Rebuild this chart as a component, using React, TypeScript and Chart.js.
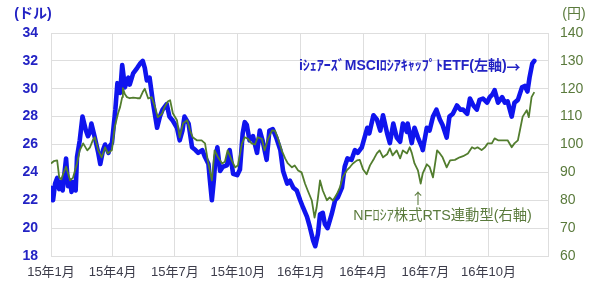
import React, { useEffect, useRef } from "react";
import { Chart, registerables } from "chart.js";

Chart.register(...registerables);

// x positions: days since 2015-01-01
const quarterDays = [0, 90, 181, 273, 365, 456, 547, 639];
const quarterLabels = ["15年1月", "15年4月", "15年7月", "15年10月", "16年1月", "16年4月", "16年7月", "16年10月"];

const leftTicks = [18, 20, 22, 24, 26, 28, 30, 32, 34];
const rightTicks = [60, 70, 80, 90, 100, 110, 120, 130, 140];

// iシェアーズ MSCI ロシア キャップド ETF (USD, left axis)
const etfDays = [0, 3, 6, 9, 12, 14, 17, 22, 25, 28, 30, 33, 36, 38, 42, 46, 51, 54, 57, 59, 64, 69, 72, 76, 79, 84, 86, 89, 94, 97, 101, 104, 108, 113, 115, 120, 126, 130, 134, 137, 140, 144, 149, 155, 159, 163, 169, 173, 178, 184, 188, 192, 195, 201, 206, 211, 215, 221, 225, 230, 232, 235, 238, 240, 243, 247, 251, 257, 261, 266, 272, 276, 280, 283, 286, 290, 295, 301, 305, 309, 315, 319, 324, 329, 335, 339, 345, 349, 354, 359, 364, 368, 374, 378, 383, 386, 390, 393, 397, 400, 404, 410, 415, 419, 425, 429, 433, 439, 444, 448, 454, 458, 462, 465, 471, 476, 481, 485, 491, 495, 500, 505, 510, 514, 520, 521, 527, 531, 536, 542, 543, 549, 553, 558, 563, 568, 572, 578, 582, 587, 593, 598, 602, 608, 612, 617, 622, 626, 631, 637, 641, 645, 648, 653, 659, 663, 667, 673, 677, 682, 688, 692, 696, 699, 703, 706];
const etfValues = [22.9, 22.0, 23.2, 23.6, 22.8, 23.3, 22.7, 25.0, 23.0, 23.4, 22.6, 23.3, 22.7, 25.1, 26.3, 28.0, 27.0, 26.6, 26.9, 27.5, 26.5, 25.4, 24.6, 25.6, 26.0, 25.4, 25.9, 26.1, 28.5, 30.4, 29.7, 31.7, 30.1, 30.8, 30.3, 31.1, 31.5, 31.8, 32.0, 31.5, 30.6, 30.8, 29.0, 27.2, 28.0, 28.5, 28.9, 28.0, 27.7, 27.2, 26.3, 27.0, 28.0, 27.5, 25.8, 25.6, 25.4, 25.6, 25.1, 24.6, 23.5, 22.0, 23.5, 24.9, 25.8, 24.1, 24.4, 24.5, 25.6, 23.9, 23.8, 24.2, 26.8, 27.6, 27.4, 26.3, 26.6, 25.4, 27.0, 26.3, 24.9, 27.0, 27.1, 26.5, 25.6, 24.1, 23.2, 23.4, 22.9, 22.7, 22.0, 21.5, 20.8, 20.1, 19.1, 18.7, 19.6, 21.0, 21.1, 20.3, 20.0, 21.0, 22.0, 22.2, 22.9, 24.4, 25.0, 24.9, 25.6, 25.4, 25.8, 26.5, 27.2, 26.8, 28.1, 27.8, 27.0, 28.1, 26.8, 26.1, 27.5, 26.5, 26.2, 27.5, 26.9, 27.5, 26.1, 27.2, 26.5, 25.8, 25.6, 27.2, 27.0, 28.0, 28.5, 27.8, 27.4, 26.5, 28.0, 28.2, 28.8, 28.5, 28.5, 28.2, 29.3, 28.8, 28.5, 29.2, 29.3, 29.0, 29.4, 29.6, 29.9, 29.0, 29.4, 29.0, 29.1, 28.0, 29.0, 29.2, 30.1, 30.2, 29.8, 30.8, 31.8, 32.0];

// NF ロシア株式 RTS 連動型 (JPY, right axis)
const rtsDays = [0, 4, 9, 12, 15, 18, 22, 28, 32, 38, 42, 47, 53, 57, 61, 64, 69, 74, 79, 83, 89, 93, 98, 101, 104, 105, 108, 111, 115, 120, 126, 130, 134, 137, 142, 147, 152, 156, 162, 166, 171, 174, 178, 184, 188, 193, 199, 203, 207, 213, 220, 225, 229, 235, 239, 244, 250, 254, 258, 264, 269, 273, 279, 283, 288, 293, 298, 302, 308, 312, 317, 323, 327, 331, 337, 342, 346, 352, 356, 361, 366, 371, 375, 381, 385, 388, 390, 393, 397, 403, 407, 412, 418, 422, 426, 432, 437, 441, 447, 451, 456, 461, 466, 472, 476, 480, 485, 491, 495, 499, 505, 510, 514, 520, 524, 527, 531, 536, 540, 543, 549, 553, 558, 564, 568, 572, 578, 583, 590, 597, 602, 609, 615, 619, 623, 629, 634, 638, 644, 648, 653, 658, 663, 667, 673, 677, 682, 685, 689, 695, 698, 702, 706];
const rtsValues = [93.2, 94.0, 94.3, 88.2, 87.5, 89.6, 92.0, 87.1, 88.0, 93.2, 97.9, 100.4, 97.9, 99.0, 101.5, 102.6, 97.9, 95.4, 99.0, 96.8, 98.0, 106.2, 111.2, 113.5, 117.0, 120.2, 118.0, 117.0, 116.6, 116.8, 116.6, 116.6, 118.8, 120.0, 116.5, 117.0, 113.4, 109.8, 111.0, 113.4, 115.5, 115.9, 111.2, 108.7, 102.6, 107.6, 108.7, 105.1, 102.6, 101.5, 101.5, 100.4, 94.3, 87.1, 97.9, 95.4, 93.2, 93.8, 97.9, 94.3, 91.8, 92.5, 100.4, 102.6, 102.0, 100.4, 100.0, 102.6, 102.0, 97.9, 102.0, 105.1, 105.0, 102.6, 97.9, 95.0, 93.2, 91.8, 92.5, 90.7, 90.0, 86.0, 83.5, 79.9, 73.8, 77.4, 81.0, 87.1, 83.5, 80.0, 81.0, 79.9, 82.4, 84.6, 88.2, 90.7, 92.0, 93.2, 94.3, 94.5, 91.0, 89.3, 92.5, 95.0, 96.8, 97.9, 95.4, 96.5, 98.6, 96.1, 97.9, 95.0, 97.9, 96.8, 99.0, 97.0, 93.2, 90.7, 86.0, 89.6, 92.9, 92.0, 88.2, 97.9, 96.8, 95.4, 91.8, 94.3, 94.5, 95.4, 95.8, 96.8, 99.0, 98.5, 99.0, 98.0, 99.0, 100.4, 100.4, 102.2, 101.5, 101.5, 101.5, 101.5, 99.0, 100.4, 101.5, 105.1, 110.0, 112.3, 109.8, 117.0, 118.8];

const etfLabel = "iｼｪｱｰｽﾞMSCIﾛｼｱｷｬｯﾌﾟﾄETF(左軸)";
const etfArrow = "→";
const rtsLabel = "NFﾛｼｱ株式RTS連動型(右軸)";

const FONT = "'Liberation Sans', 'Noto Sans CJK JP', sans-serif";
const CJK = "'Noto Sans CJK JP', sans-serif";
const BLUE_LINE = "#0f14ee";
const BLUE_TEXT = "#2323c4";
const GREEN_LINE = "#527d2e";
const GREEN_TEXT = "#5a7a3c";
const GRID = "#dedede";

const textPlugin = {
  id: "texts",
  afterDatasetsDraw(chart: any) {
    const ctx = chart.ctx;
    const y = chart.scales.y;
    const y1 = chart.scales.y1;
    const x = chart.scales.x;
    ctx.save();
    ctx.textBaseline = "middle";
    // axis unit titles
    ctx.font = `bold 14px ${FONT}`;
    ctx.fillStyle = BLUE_TEXT;
    ctx.textAlign = "center";
    ctx.fillText("(ドル)", 33, 14);
    ctx.font = `14px ${FONT}`;
    ctx.fillStyle = GREEN_TEXT;
    ctx.fillText("(円)", 574, 14);
    // blue series annotation
    const by = y.getPixelForValue(31.6);
    const right = x.getPixelForValue(686);
    ctx.font = `bold 14px ${CJK}`;
    const aw = ctx.measureText(etfArrow).width;
    ctx.fillStyle = BLUE_TEXT;
    ctx.textAlign = "right";
    ctx.fillText(etfArrow, right, by);
    ctx.font = `bold 14px ${FONT}`;
    ctx.fillText(etfLabel, right - aw, by);
    // green series annotation
    ctx.font = `15px ${CJK}`;
    ctx.fillStyle = GREEN_TEXT;
    ctx.textAlign = "center";
    ctx.fillText("↑", x.getPixelForValue(536), y1.getPixelForValue(80.8));
    ctx.font = `14.3px ${FONT}`;
    ctx.fillText(rtsLabel, x.getPixelForValue(572), y1.getPixelForValue(74.2));
    ctx.restore();
  },
};

export default function App() {
  const ref = useRef<HTMLCanvasElement | null>(null);

  useEffect(() => {
    if (!ref.current) return;
    const chart = new Chart(ref.current, {
      type: "line",
      data: {
        datasets: [
          {
            label: rtsLabel,
            data: rtsDays.map((d, i) => ({ x: d, y: rtsValues[i] })),
            yAxisID: "y1",
            borderColor: GREEN_LINE,
            borderWidth: 1.8,
            pointRadius: 0,
            tension: 0,
            order: 0,
            borderJoinStyle: "round",
          },
          {
            label: etfLabel,
            data: etfDays.map((d, i) => ({ x: d, y: etfValues[i] })),
            yAxisID: "y",
            borderColor: BLUE_LINE,
            borderWidth: 4.6,
            pointRadius: 0,
            tension: 0,
            order: 1,
            borderJoinStyle: "round",
            borderCapStyle: "round",
          },
        ],
      },
      options: {
        responsive: false,
        animation: false,
        events: [],
        layout: { padding: { top: 33, left: 0, right: 0, bottom: 0 } },
        plugins: { legend: { display: false }, tooltip: { enabled: false }, title: { display: false } },
        scales: {
          x: {
            type: "linear",
            min: 0,
            max: 726,
            afterBuildTicks: (s: any) => {
              s.ticks = quarterDays.map((v) => ({ value: v }));
            },
            afterFit: (s: any) => {
              s.height = 32;
            },
            ticks: {
              autoSkip: false,
              maxRotation: 0,
              padding: 9,
              color: "#3c3c4a",
              font: { family: FONT, size: 13 },
              callback: (v: any) => {
                const i = quarterDays.indexOf(Number(v));
                return i >= 0 ? quarterLabels[i] : "";
              },
            },
            grid: { color: GRID, drawTicks: false },
            border: { color: GRID },
          },
          y: {
            type: "linear",
            position: "left",
            min: leftTicks[0],
            max: leftTicks[leftTicks.length - 1],
            afterBuildTicks: (s: any) => {
              s.ticks = leftTicks.map((v) => ({ value: v }));
            },
            afterFit: (s: any) => {
              s.width = 51;
            },
            ticks: {
              padding: 13,
              color: BLUE_TEXT,
              font: { family: FONT, size: 14, weight: "bold" },
            },
            grid: { color: GRID, drawTicks: false },
            border: { color: GRID },
          },
          y1: {
            type: "linear",
            position: "right",
            min: rightTicks[0],
            max: rightTicks[rightTicks.length - 1],
            afterBuildTicks: (s: any) => {
              s.ticks = rightTicks.map((v) => ({ value: v }));
            },
            afterFit: (s: any) => {
              s.width = 52;
            },
            ticks: {
              padding: 12,
              color: GREEN_TEXT,
              font: { family: FONT, size: 14 },
            },
            grid: { drawOnChartArea: false, drawTicks: false },
            border: { color: GRID },
          },
        },
      },
      plugins: [textPlugin],
    } as any);
    return () => chart.destroy();
  }, []);

  return (
    <div style={{ position: "fixed", left: 0, top: 0, width: 600, height: 288, background: "#fff" }}>
      <canvas ref={ref} width={600} height={288} style={{ display: "block", width: 600, height: 288 }} />
    </div>
  );
}
